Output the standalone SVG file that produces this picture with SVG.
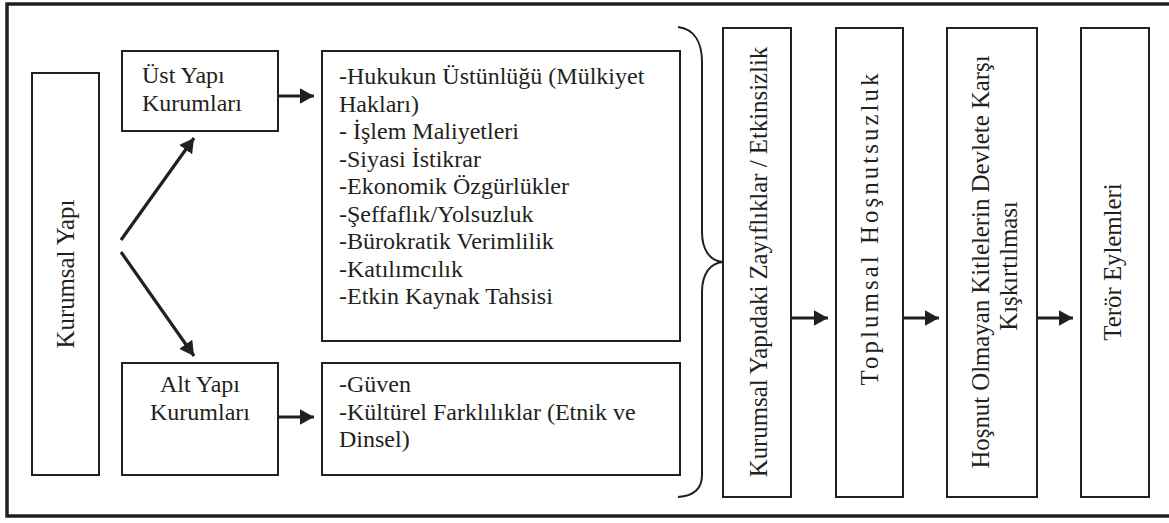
<svg xmlns="http://www.w3.org/2000/svg" width="1169" height="523" viewBox="0 0 1169 523">
<style>
.box{fill:#fff;stroke:#231f20;stroke-width:2}
.t{font-family:'Liberation Serif','Times New Roman',serif;font-size:24px;fill:#231f20}
.v{font-size:24.8px}
.c{text-anchor:middle}
.ln{stroke:#231f20;stroke-width:3.2;fill:none}
</style>
<defs>
<marker id="ah" markerWidth="5" markerHeight="5" refX="4.5" refY="2.5" orient="auto" markerUnits="strokeWidth">
<path d="M0,0 L4.5,2.5 L0,5 Z" fill="#231f20"/>
</marker>
</defs>
<rect width="1169" height="523" fill="#fff"/>
<path d="M1169,4 H7 V516 H1169" fill="none" stroke="#231f20" stroke-width="3.5"/>

<g id="kurumsal-yapi">
<rect class="box" x="32" y="73" width="67" height="402"/>
<text class="t v c" transform="translate(74,274) rotate(-90)">Kurumsal Yapı</text>
</g>
<g id="ust-yapi">
<rect class="box" x="122" y="51" width="156" height="80"/>
<text class="t" x="142" y="83">Üst Yapı</text>
<text class="t" x="142" y="111">Kurumları</text>
</g>
<g id="alt-yapi">
<rect class="box" x="122" y="363" width="156" height="112"/>
<text class="t c" x="200" y="392">Alt Yapı</text>
<text class="t c" x="200" y="420">Kurumları</text>
</g>
<g id="ust-liste">
<rect class="box" x="322" y="51" width="358" height="290"/>
<text class="t" x="339" y="84">-Hukukun Üstünlüğü (Mülkiyet</text>
<text class="t" x="339" y="111.5">Hakları)</text>
<text class="t" x="339" y="139">- İşlem Maliyetleri</text>
<text class="t" x="339" y="166.5">-Siyasi İstikrar</text>
<text class="t" x="339" y="194">-Ekonomik Özgürlükler</text>
<text class="t" x="339" y="221.5">-Şeffaflık/Yolsuzluk</text>
<text class="t" x="339" y="249">-Bürokratik Verimlilik</text>
<text class="t" x="339" y="276.5">-Katılımcılık</text>
<text class="t" x="339" y="304">-Etkin Kaynak Tahsisi</text>
</g>
<g id="alt-liste">
<rect class="box" x="322" y="363" width="358" height="112"/>
<text class="t" x="339" y="392">-Güven</text>
<text class="t" x="339" y="419.5">-Kültürel Farklılıklar (Etnik ve</text>
<text class="t" x="339" y="447">Dinsel)</text>
</g>
<g id="zayifliklar">
<rect class="box" x="723" y="28" width="68" height="469"/>
<text class="t v c" transform="translate(767,262) rotate(-90)">Kurumsal Yapıdaki Zayıflıklar / Etkinsizlik</text>
</g>
<g id="hosnutsuzluk">
<rect class="box" x="836" y="28" width="67" height="469"/>
<text class="t v c" transform="translate(878,229.5) rotate(-90)" textLength="312" lengthAdjust="spacing">Toplumsal Hoşnutsuzluk</text>
</g>
<g id="kiskirtilma">
<rect class="box" x="947" y="28" width="90" height="469"/>
<text class="t v c" transform="translate(989,262) rotate(-90)">Hoşnut Olmayan Kitlelerin Devlete Karşı</text>
<text class="t v c" transform="translate(1017,266) rotate(-90)">Kışkırtılması</text>
</g>
<g id="teror">
<rect class="box" x="1081" y="28" width="68" height="469"/>
<text class="t v c" transform="translate(1121,262) rotate(-90)">Terör Eylemleri</text>
</g>

<g id="connectors">
<path d="M678,27 C694,29 702,42 702,62 L702,232 C702,250 710,261 723,262 C710,263 702,274 702,292 L702,475 C702,488 694,496 678,497" fill="none" stroke="#231f20" stroke-width="2"/>
<line class="ln" x1="121" y1="240" x2="194" y2="138" marker-end="url(#ah)"/>
<line class="ln" x1="121" y1="252" x2="194" y2="356" marker-end="url(#ah)"/>
<line class="ln" x1="278" y1="96" x2="314" y2="96" marker-end="url(#ah)"/>
<line class="ln" x1="278" y1="417" x2="314" y2="417" marker-end="url(#ah)"/>
<line class="ln" x1="791" y1="318" x2="828" y2="318" marker-end="url(#ah)"/>
<line class="ln" x1="903" y1="318" x2="939" y2="318" marker-end="url(#ah)"/>
<line class="ln" x1="1037" y1="318" x2="1073" y2="318" marker-end="url(#ah)"/>
</g>
</svg>
